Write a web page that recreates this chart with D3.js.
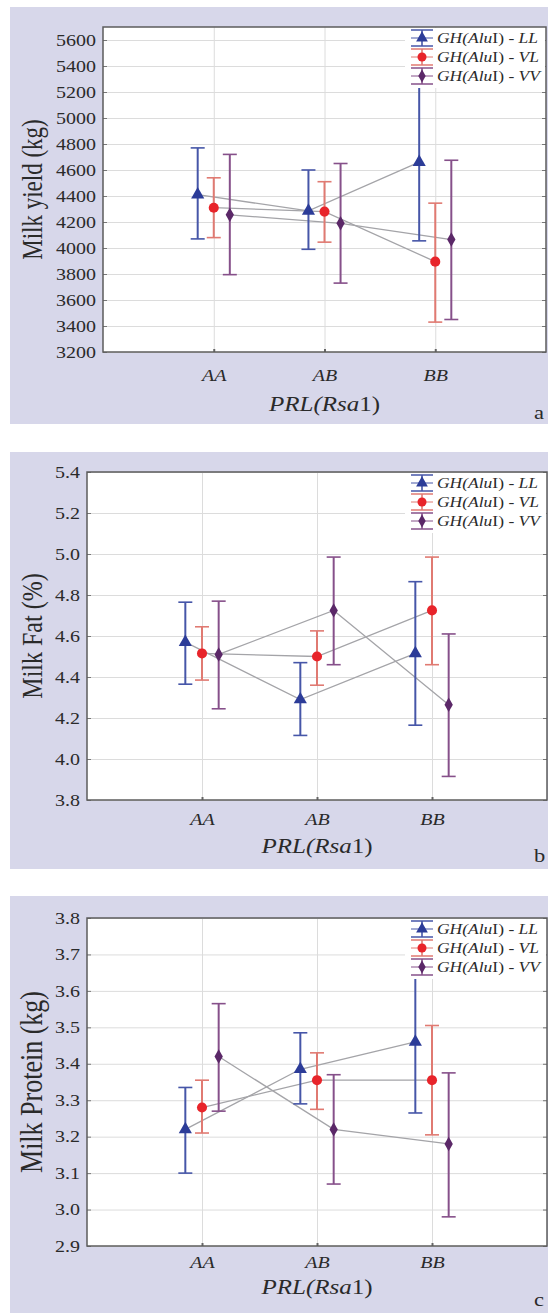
<!DOCTYPE html>
<html>
<head>
<meta charset="utf-8">
<script src="https://cdn.jsdelivr.net/npm/d3@7"></script>
<style>
  body { margin: 0; background: #fff; }
  text { fill: #2a2a2a; }
</style>
</head>
<body>
<div id="chart"></div>
<script>
var categories = ["AA", "AB", "BB"];
var series = ["LL", "VL", "VV"];

// rows: LL, VL, VV ; columns: AA, AB, BB
var yieldMean = [[4410, 4285, 4660], [4310, 4280, 3895], [4255, 4190, 4065]];
var yieldLow  = [[4070, 3990, 4055], [4080, 4045, 3430], [3795, 3730, 3450]];
var yieldHigh = [[4770, 4600, 5270], [4540, 4510, 4345], [4720, 4650, 4675]];
var yieldTicks = [3200, 3400, 3600, 3800, 4000, 4200, 4400, 4600, 4800, 5000, 5200, 5400, 5600];

var fatMean = [[4.57, 4.29, 4.515], [4.515, 4.50, 4.725], [4.51, 4.725, 4.265]];
var fatLow  = [[4.365, 4.115, 4.165], [4.385, 4.36, 4.46], [4.245, 4.46, 3.915]];
var fatHigh = [[4.765, 4.47, 4.865], [4.645, 4.625, 4.985], [4.77, 4.985, 4.61]];
var fatTicks = [3.8, 4.0, 4.2, 4.4, 4.6, 4.8, 5.0, 5.2, 5.4];

var protMean = [[3.22, 3.385, 3.46], [3.28, 3.355, 3.355], [3.42, 3.22, 3.18]];
var protLow  = [[3.10, 3.29, 3.265], [3.21, 3.275, 3.205], [3.27, 3.07, 2.98]];
var protHigh = [[3.335, 3.485, 3.66], [3.355, 3.43, 3.505], [3.565, 3.37, 3.375]];
var protTicks = [2.9, 3.0, 3.1, 3.2, 3.3, 3.4, 3.5, 3.6, 3.7, 3.8];

var FONT = "'Liberation Serif', 'Times New Roman', serif";
var SX = 1.25; // the source picture is stretched sideways
var markerColor = ["#2c3c98", "#e8242a", "#5b2868"];
var barColor = ["#4656a8", "#e07a72", "#86508a"];
var markerType = [d3.symbolTriangle, d3.symbolCircle, d3.symbolDiamond];
var markerSize = [75, 80, 60];
var offsets = [-0.145, 0, 0.145];

var panels = [
  {mean: yieldMean, low: yieldLow, high: yieldHigh, ticks: yieldTicks, domain: [3200, 5700],
   fmt: d3.format("d"), title: "Milk yield (kg)", titleSize: 23, letter: "a",
   bg: [10, 7, 548, 424], l: 103, r: 546, t: 27, b: 352, labelY: 381, xTitleY: 411, letterY: 419},
  {mean: fatMean, low: fatLow, high: fatHigh, ticks: fatTicks, domain: [3.8, 5.4],
   fmt: d3.format(".1f"), title: "Milk Fat (%)", titleSize: 24, letter: "b",
   bg: [10, 452, 548, 869], l: 87, r: 547, t: 472, b: 800, labelY: 825, xTitleY: 853, letterY: 862},
  {mean: protMean, low: protLow, high: protHigh, ticks: protTicks, domain: [2.9, 3.8],
   fmt: d3.format(".1f"), title: "Milk Protein (kg)", titleSize: 26, letter: "c",
   bg: [10, 896, 548, 1313], l: 87, r: 547, t: 918, b: 1246, labelY: 1268, xTitleY: 1294, letterY: 1306}
];

var svg = d3.select("#chart").append("svg")
  .attr("width", 548)
  .attr("height", 1313)
  .attr("font-family", FONT);

function stretch(sel, x, y) {
  sel.attr("transform", "translate(" + x + "," + y + ") scale(" + SX + ",1)");
}

function drawPanel(p) {
  svg.append("rect")
    .attr("x", p.bg[0]).attr("y", p.bg[1])
    .attr("width", p.bg[2] - p.bg[0]).attr("height", p.bg[3] - p.bg[1])
    .attr("fill", "#d7d7ea");

  var x = d3.scaleLinear().domain([0, 4]).range([p.l, p.r]);
  var y = d3.scaleLinear().domain(p.domain).range([p.b, p.t]);

  svg.append("rect")
    .attr("x", p.l).attr("y", p.t)
    .attr("width", p.r - p.l).attr("height", p.b - p.t)
    .attr("fill", "#fff");

  // grid
  svg.append("g")
    .attr("transform", "translate(" + p.l + ",0)")
    .call(d3.axisLeft(y).tickValues(p.ticks).tickSize(-(p.r - p.l)).tickFormat(""))
    .call(function(g) { g.select(".domain").remove(); })
    .selectAll("line").attr("stroke", "#dcdcdc");
  svg.append("g")
    .attr("transform", "translate(0," + p.b + ")")
    .call(d3.axisBottom(x).tickValues([1, 2, 3]).tickSize(-(p.b - p.t)).tickFormat(""))
    .call(function(g) { g.select(".domain").remove(); })
    .selectAll("line").attr("stroke", "#dcdcdc");

  // inward ticks
  svg.append("g")
    .attr("transform", "translate(" + p.l + ",0)")
    .call(d3.axisRight(y).tickValues(p.ticks).tickSize(4).tickFormat(""))
    .call(function(g) { g.select(".domain").remove(); })
    .selectAll("line").attr("stroke", "#777");
  svg.append("g")
    .attr("transform", "translate(" + p.r + ",0)")
    .call(d3.axisLeft(y).tickValues(p.ticks).tickSize(4).tickFormat(""))
    .call(function(g) { g.select(".domain").remove(); })
    .selectAll("line").attr("stroke", "#777");
  svg.append("g")
    .attr("transform", "translate(0," + p.b + ")")
    .call(d3.axisTop(x).tickValues([1, 2, 3]).tickSize(3).tickFormat(""))
    .call(function(g) { g.select(".domain").remove(); })
    .selectAll("line").attr("stroke", "#666").attr("stroke-width", 2);

  // y tick labels
  var ya = svg.append("g")
    .attr("transform", "translate(" + p.l + ",0)")
    .call(d3.axisLeft(y).tickValues(p.ticks).tickSize(0).tickPadding(0).tickFormat(p.fmt))
    .attr("font-family", FONT)
    .attr("font-size", 16);
  ya.select(".domain").remove();
  ya.selectAll("text")
    .attr("x", -7 / SX)
    .attr("transform", "scale(" + SX + ",1)")
    .attr("fill", "#2a2a2a");

  // x tick labels
  var xa = svg.append("g")
    .attr("transform", "translate(0," + p.b + ")")
    .call(d3.axisBottom(x).tickValues([1, 2, 3]).tickSize(0)
      .tickFormat(function(d) { return categories[d - 1]; }))
    .attr("font-family", FONT)
    .attr("font-size", 16);
  xa.select(".domain").remove();
  xa.selectAll("text")
    .attr("y", p.labelY - p.b)
    .attr("dy", null)
    .attr("transform", "scale(" + SX + ",1)")
    .attr("font-style", "italic")
    .attr("fill", "#2a2a2a");

  // lines joining means
  var line = d3.line()
    .x(function(d) { return x(d.i + 1 + d.o); })
    .y(function(d) { return y(d.v); });
  p.mean.forEach(function(row, s) {
    svg.append("path")
      .datum(row.map(function(v, i) { return {i: i, v: v, o: offsets[s]}; }))
      .attr("d", line)
      .attr("fill", "none")
      .attr("stroke", "#a4a4a8")
      .attr("stroke-width", 1.3);
  });

  // error bars and markers
  p.mean.forEach(function(row, s) {
    var g = svg.append("g");
    var pts = row.map(function(v, i) {
      return {cx: x(i + 1 + offsets[s]), m: v, lo: p.low[s][i], hi: p.high[s][i]};
    });
    g.selectAll(".bar").data(pts).enter().append("line")
      .attr("x1", function(d) { return d.cx; }).attr("x2", function(d) { return d.cx; })
      .attr("y1", function(d) { return y(d.lo); }).attr("y2", function(d) { return y(d.hi); })
      .attr("stroke", barColor[s]).attr("stroke-width", 2);
    ["lo", "hi"].forEach(function(k) {
      g.selectAll(".cap" + k).data(pts).enter().append("line")
        .attr("x1", function(d) { return d.cx - 7; }).attr("x2", function(d) { return d.cx + 7; })
        .attr("y1", function(d) { return y(d[k]); }).attr("y2", function(d) { return y(d[k]); })
        .attr("stroke", barColor[s]).attr("stroke-width", 1.6);
    });
    g.selectAll(".mk").data(pts).enter().append("path")
      .attr("d", d3.symbol().type(markerType[s]).size(markerSize[s]))
      .attr("transform", function(d) { return "translate(" + d.cx + "," + y(d.m) + ")"; })
      .attr("fill", markerColor[s]);
  });

  // legend
  svg.append("rect")
    .attr("x", 405).attr("y", p.t + 1)
    .attr("width", p.r - 406).attr("height", 60)
    .attr("fill", "#fff");
  series.forEach(function(name, s) {
    var cy = p.t + 11 + 19 * s, cx = 422;
    svg.append("line").attr("x1", cx).attr("x2", cx).attr("y1", cy - 8).attr("y2", cy + 8)
      .attr("stroke", barColor[s]).attr("stroke-width", 1.6);
    [-8, 8].forEach(function(dy) {
      svg.append("line").attr("x1", cx - 11).attr("x2", cx + 11).attr("y1", cy + dy).attr("y2", cy + dy)
        .attr("stroke", barColor[s]).attr("stroke-width", 1.5);
    });
    svg.append("line").attr("x1", cx - 11).attr("x2", cx + 11).attr("y1", cy).attr("y2", cy)
      .attr("stroke", barColor[s]).attr("stroke-width", 1);
    svg.append("path")
      .attr("d", d3.symbol().type(markerType[s]).size(markerSize[s] * 0.8))
      .attr("transform", "translate(" + cx + "," + cy + ")")
      .attr("fill", markerColor[s]);
    var t = svg.append("text").attr("font-size", 14);
    stretch(t, 437, cy + 5);
    t.append("tspan").attr("font-style", "italic").text("GH(Alu");
    t.append("tspan").text("I");
    t.append("tspan").text(") - ");
    t.append("tspan").attr("font-style", "italic").text(name);
  });

  // frame
  svg.append("rect")
    .attr("x", p.l).attr("y", p.t)
    .attr("width", p.r - p.l).attr("height", p.b - p.t)
    .attr("fill", "none")
    .attr("stroke", "#5c5c5c")
    .attr("stroke-width", 1.5);

  // axis titles
  svg.append("text")
    .attr("text-anchor", "middle")
    .attr("font-size", p.titleSize)
    .attr("transform", "translate(" + 42 + "," + ((p.t + p.b) / 2) + ") rotate(-90) scale(1," + SX + ")")
    .text(p.title);

  var xt = svg.append("text")
    .attr("text-anchor", "middle")
    .attr("font-size", 20);
  stretch(xt, (x(1) + x(3)) / 2, p.xTitleY);
  xt.append("tspan").attr("font-style", "italic").text("PRL(Rsa");
  xt.append("tspan").text("1)");

  var lt = svg.append("text")
    .attr("font-size", 18)
    .text(p.letter);
  stretch(lt, 534, p.letterY);
}

panels.forEach(drawPanel);
</script>
</body>
</html>
